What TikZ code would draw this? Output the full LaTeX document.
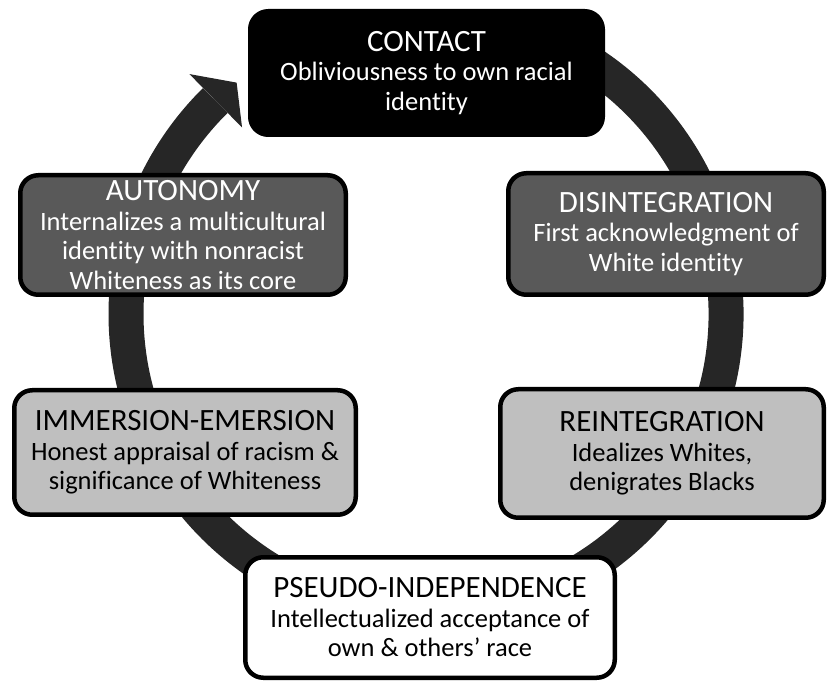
\documentclass[tikz,border=0pt]{standalone}
\usepackage{fontspec}
\setmainfont{Carlito}[Ligatures={NoCommon,NoContextual},RawFeature={-liga;-clig;-dlig}]
\usetikzlibrary{calc}
\definecolor{ringgray}{HTML}{262626}
\definecolor{darkfill}{HTML}{595959}
\definecolor{lightfill}{HTML}{BFBFBF}
\newcommand{\stagetitle}[1]{{\fontsize{31}{29.5}\selectfont #1}}
\begin{document}
\begin{tikzpicture}[x=1pt,y=1pt,
  stage/.style={draw=black, line width=4.5pt, rounded corners=18pt, align=center,
    inner sep=0pt, font=\fontsize{26.5}{29.5}\selectfont},
  blackstage/.style={stage, fill=black, text=white},
  darkstage/.style={stage, fill=darkfill, text=white},
  lightstage/.style={stage, fill=lightfill, text=black},
  whitestage/.style={stage, fill=white, text=black},
  ring/.style={draw=ringgray, line width=35pt},
  ringhead/.style={fill=ringgray}
]
\useasboundingbox (0,0) rectangle (827,683);
\coordinate (c) at (426,369);
% circular arrow
\draw[ring] ($(c)+(65:300)$) arc[start angle=65, end angle=-225.4, radius=300];
\fill[ringhead] ($(c)+(134.6:337)$) -- ($(c)+(129.3:299)$) -- ($(c)+(134.6:262)$) -- cycle;
% stages
\node[blackstage, minimum width=352.5pt, minimum height=123.5pt] (contact) at (426.5,610)
  {\stagetitle{CONTACT}\\Obliviousness to own racial\\identity};
\node[darkstage, minimum width=315.5pt, minimum height=121.5pt] (disint) at (666,449)
  {\stagetitle{DISINTEGRATION}\\First acknowledgment of\\White identity};
\node[lightstage, minimum width=323.5pt, minimum height=128.5pt] (reint) at (662,229.5)
  {\stagetitle{REINTEGRATION}\\Idealizes Whites,\\denigrates Blacks};
\node[whitestage, minimum width=369.5pt, minimum height=120.5pt] (pseudo) at (430,65.5)
  {\stagetitle{PSEUDO-INDEPENDENCE}\\Intellectualized acceptance of\\own \& others’ race};
\node[lightstage, minimum width=341.5pt, minimum height=124.5pt] (immer) at (185,230.5)
  {\stagetitle{IMMERSION-EMERSION}\\Honest appraisal of racism \&\\significance of Whiteness};
\node[darkstage, minimum width=325.5pt, minimum height=119.5pt] (auton) at (183,448)
  {\stagetitle{AUTONOMY}\\Internalizes a multicultural\\identity with nonracist\\Whiteness as its core};
\end{tikzpicture}
\end{document}
